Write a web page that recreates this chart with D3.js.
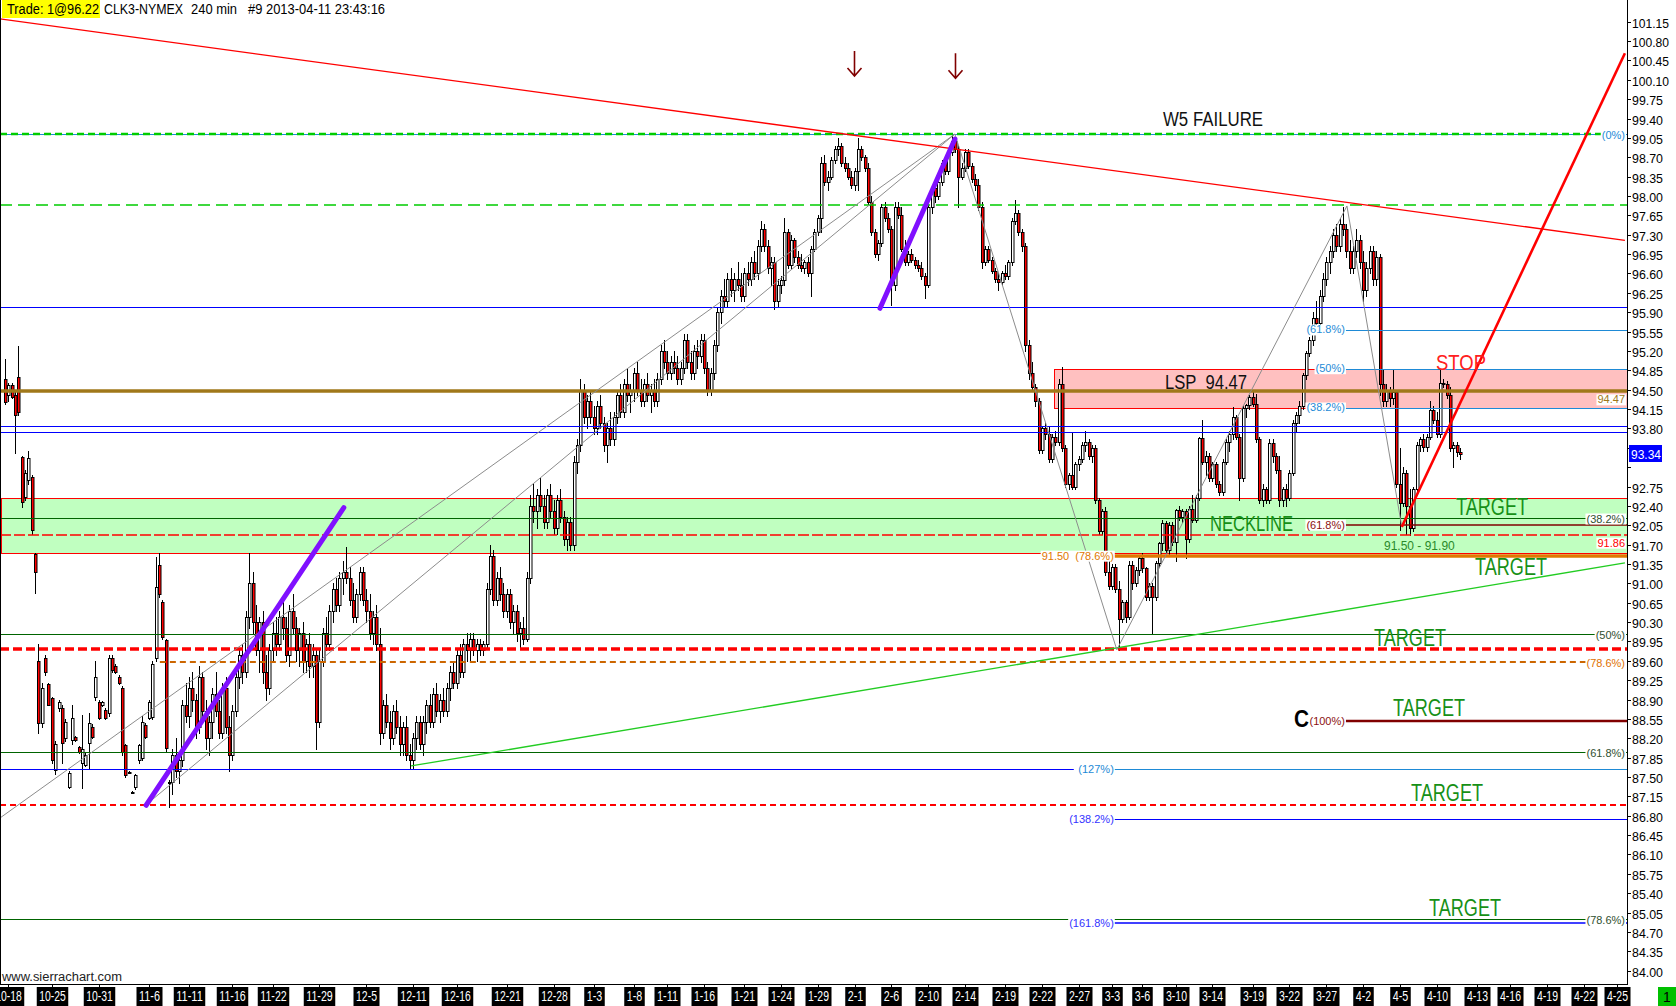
<!DOCTYPE html>
<html><head><meta charset="utf-8"><title>CLK3-NYMEX 240 min</title>
<script src="https://cdn.jsdelivr.net/npm/d3@7/dist/d3.min.js"></script>
<style>
html,body{margin:0;padding:0;background:#fff;overflow:hidden}
svg{display:block;font-family:"Liberation Sans",Arial,sans-serif}
</style></head><body>
<svg id="chart" width="1676" height="1006"></svg>
<script>
// ---------------- DATA (240-min bars) ----------------
const opens = [
94.69,94.40,94.58,94.40,94.73,93.28,92.56,92.86,92.92,91.53,89.60,88.48,89.65,89.18,88.93,87.63,88.75,88.75,88.20,87.32,
88.17,88.23,88.04,87.76,87.72,88.12,88.40,88.95,88.86,88.80,88.72,88.66,89.65,89.50,89.30,89.10,88.08,87.59,87.23,87.32,
87.80,87.85,88.44,88.57,88.58,89.65,91.33,90.66,89.98,87.41,87.41,87.90,87.60,
87.80,88.80,88.60,89.10,88.90,88.40,89.30,88.70,88.20,88.50,
89.00,88.70,88.30,89.10,88.40,87.90,88.70,89.30,89.70,89.40,
90.40,91.00,90.30,89.80,90.30,89.40,89.10,89.80,90.10,89.90,
90.40,90.20,89.70,90.50,90.20,89.80,90.10,89.60,89.90,89.50,
89.70,88.50,89.60,90.10,89.90,90.50,90.90,90.60,91.10,91.20,
91.10,90.70,90.40,90.80,91.20,90.70,90.50,90.10,90.40,89.90,
88.30,88.80,88.50,88.20,88.70,88.40,88.10,88.40,87.90,87.80,
88.20,88.50,88.10,88.50,88.80,88.50,89.00,88.70,88.90,88.70,
89.10,89.40,89.20,89.70,89.40,89.90,89.80,90.00,89.80,89.90,
89.80,89.90,90.90,91.50,90.70,91.10,90.80,90.50,90.80,90.30,
90.50,90.10,90.20,90.00,91.10,92.40,92.30,92.60,92.40,92.10,
92.60,92.30,92.00,92.50,92.20,91.80,92.10,91.70,93.20,93.50,
94.50,94.00,94.30,94.00,93.80,94.20,93.90,93.50,93.80,93.60,
94.00,94.40,94.10,94.60,94.40,94.50,94.80,94.50,94.30,94.60,
94.40,94.50,94.30,94.70,95.20,95.00,94.80,95.00,94.90,94.70,
94.90,95.40,95.00,94.80,95.20,95.10,95.40,94.90,94.50,94.80,
95.30,95.90,96.20,96.10,96.50,96.30,96.50,96.40,96.20,96.60,
96.50,96.80,96.60,97.10,97.40,97.10,96.70,96.80,96.10,96.40,
96.48,97.35,96.75,97.20,96.90,96.75,96.70,96.80,96.60,97.05,
97.35,97.60,98.60,98.25,98.35,98.65,98.85,98.90,98.60,98.50,
98.35,98.20,98.45,98.85,98.70,98.50,97.90,97.35,96.95,97.15,
97.80,97.60,97.40,96.40,97.80,97.65,97.05,96.80,96.95,96.85,
96.75,96.70,96.55,96.40,97.80,98.15,98.00,98.25,98.60,98.45,
98.80,99.00,98.85,98.35,98.50,98.80,98.55,98.30,98.20,97.80,
96.80,97.05,96.85,96.65,96.50,96.45,96.60,96.55,96.80,97.55,97.70,97.35,
97.10,95.30,94.80,94.55,94.30,93.41,93.80,93.70,93.25,93.65,
93.55,94.60,93.45,92.80,92.95,92.75,93.15,93.25,93.50,93.55,
93.30,93.45,92.50,91.95,92.30,91.20,90.95,91.30,90.90,90.35,
90.66,90.40,91.33,91.00,91.25,91.45,91.28,90.75,90.95,90.75,
91.37,91.73,92.09,91.60,92.05,91.75,92.32,92.20,92.30,91.80,
92.35,92.15,92.55,93.62,93.20,93.30,92.90,93.15,92.80,92.65,
93.20,93.55,93.70,94.00,93.65,92.90,94.17,94.22,94.37,94.25,
93.60,92.50,92.70,92.50,93.53,93.30,93.05,92.50,92.70,92.55,
93.00,93.90,94.05,94.20,94.76,95.16,95.40,95.80,95.70,96.20,
96.50,96.80,97.00,97.30,97.10,97.50,97.40,97.00,96.70,97.00,
97.20,96.80,96.30,96.70,97.00,96.50,96.90,94.60,94.30,94.50,
94.35,94.45,92.80,92.45,93.00,92.40,92.00,92.70,93.50,93.60,
93.46,93.65,94.13,93.95,93.70,94.62,94.60,94.40,93.44,93.50,93.37];
const highs = [
95.05,94.62,94.62,94.45,95.29,93.30,93.05,93.40,92.95,91.55,89.90,89.20,89.70,89.20,88.95,88.15,88.90,88.80,88.55,87.60,
88.80,88.25,88.06,88.62,87.95,88.65,88.45,89.60,88.90,88.87,88.75,89.70,89.70,89.55,89.35,89.15,88.10,87.61,87.25,87.55,
88.10,88.60,88.48,88.90,89.60,91.47,91.55,90.70,90.00,87.45,88.00,88.20,87.90,
88.90,89.20,89.30,89.40,89.00,89.50,89.40,88.90,88.60,89.10,
89.40,88.90,89.20,89.30,88.60,88.80,89.40,89.80,89.90,90.50,
91.55,91.20,90.60,90.40,90.50,89.70,89.90,90.30,90.40,90.50,
90.70,90.40,90.60,90.80,90.40,90.20,90.30,90.00,90.10,89.90,
89.80,89.80,90.20,90.40,90.60,91.00,91.10,91.20,91.40,91.65,
91.30,91.00,90.90,91.30,91.30,90.90,90.80,90.50,90.60,90.20,
88.90,89.00,88.70,88.80,88.90,88.60,88.50,88.60,88.10,88.30,
88.60,88.60,88.60,88.90,89.00,89.10,89.20,89.00,89.10,89.20,
89.50,89.60,89.80,89.90,90.00,90.10,90.10,90.10,90.00,90.00,
89.95,91.00,91.70,91.60,91.20,91.30,91.00,90.90,90.90,90.60,
90.60,90.30,90.40,91.20,92.60,92.80,92.70,92.90,92.60,92.70,
92.80,92.50,92.60,92.70,92.30,92.20,92.20,93.30,93.60,94.70,
94.60,94.40,94.50,94.20,94.30,94.40,94.00,93.90,94.10,94.10,
94.50,94.60,94.70,94.90,94.60,94.90,95.00,94.70,94.70,94.80,
94.60,94.70,94.80,95.30,95.40,95.20,95.10,95.20,95.10,95.00,
95.50,95.50,95.20,95.30,95.40,95.50,95.50,95.00,94.90,95.40,
96.00,96.30,96.50,96.60,96.70,96.60,96.80,96.60,96.70,96.80,
96.90,97.00,97.20,97.55,97.50,97.20,96.90,96.90,96.50,96.55,
97.60,97.40,97.30,97.25,97.00,96.95,96.85,96.90,97.10,97.40,
97.65,98.70,98.75,98.45,98.70,98.90,99.05,98.95,98.70,98.60,
98.45,98.50,99.05,98.90,98.75,98.60,98.00,97.40,97.20,97.85,
97.90,97.70,97.45,97.90,97.90,97.80,97.20,97.00,97.05,96.90,
96.85,96.80,96.60,97.85,98.20,98.25,98.30,98.65,98.70,98.85,
99.10,99.05,98.90,98.60,98.85,98.85,98.60,98.40,98.30,97.90,
97.10,97.10,96.90,96.70,96.60,96.65,96.75,96.85,97.60,97.93,97.75,97.40,
97.15,95.40,95.00,94.60,94.35,93.85,93.90,93.85,93.70,93.75,
94.70,94.91,93.50,93.00,93.71,93.20,93.30,93.55,93.75,93.60,
93.50,93.50,92.55,92.35,92.38,91.45,91.35,91.35,91.05,90.70,
90.70,91.40,91.40,91.30,91.50,91.55,91.30,91.00,91.00,91.40,
91.75,92.15,92.12,92.10,92.10,92.35,92.40,92.35,92.35,92.40,
92.60,92.60,93.65,93.95,93.40,93.35,93.20,93.20,92.85,93.25,
93.60,93.75,94.18,94.05,93.70,94.20,94.25,94.40,94.45,94.43,
93.65,92.80,92.75,93.60,93.60,93.35,93.30,92.75,92.80,93.05,
93.95,94.10,94.30,94.80,95.20,95.45,95.90,96.10,96.30,96.60,
96.90,97.10,97.40,97.50,97.60,97.80,97.50,97.20,97.10,97.40,
97.30,97.00,96.80,97.10,97.10,97.00,96.95,94.85,94.60,94.55,
94.85,94.50,93.45,93.10,93.05,92.70,92.75,93.55,93.65,93.70,
93.70,94.30,94.20,94.10,94.85,94.70,94.65,94.55,93.55,93.55,93.45];
const lows = [
94.25,94.30,94.35,93.35,94.05,92.38,92.50,92.80,91.90,90.83,88.30,88.40,89.35,88.80,87.75,87.55,88.70,87.76,88.15,87.30,
88.10,88.15,87.93,87.30,87.70,87.65,88.20,88.90,88.55,88.78,88.55,88.60,89.40,89.38,89.18,87.90,87.50,87.57,87.21,87.28,
87.75,87.80,88.20,88.55,88.55,89.60,90.75,90.00,87.95,86.96,87.20,87.50,87.40,
87.70,88.50,88.40,88.70,88.20,88.30,88.60,88.00,87.90,88.20,
88.60,88.20,88.20,88.30,87.60,87.80,88.60,89.10,89.20,89.30,
90.20,90.10,89.70,89.40,89.20,88.90,89.00,89.60,89.70,89.80,
90.00,89.60,89.50,90.10,89.60,89.50,89.40,89.40,89.30,89.30,
88.00,88.40,89.50,89.80,89.80,90.30,90.50,90.50,90.80,91.00,
90.60,90.30,90.30,90.70,90.60,90.30,90.00,89.90,89.80,88.10,
88.20,88.40,88.00,88.10,88.30,87.90,87.90,87.80,87.65,87.65,
88.00,88.00,87.90,88.30,88.40,88.40,88.60,88.50,88.60,88.60,
88.90,89.10,89.10,89.30,89.30,89.60,89.60,89.70,89.60,89.70,
89.70,89.85,90.80,90.60,90.60,90.70,90.40,90.40,90.20,90.10,
89.95,89.85,89.90,89.95,91.00,92.10,92.00,92.30,92.00,92.00,
92.20,91.90,91.90,92.10,91.70,91.60,91.60,91.60,93.00,93.40,
93.90,93.80,93.90,93.70,93.70,93.80,93.40,93.20,93.50,93.50,
93.90,94.00,94.00,94.30,94.10,94.30,94.40,94.20,94.20,94.30,
94.10,94.20,94.20,94.60,94.90,94.70,94.70,94.80,94.60,94.60,
94.80,94.90,94.70,94.70,94.90,95.00,94.80,94.40,94.40,94.70,
95.20,95.70,96.00,96.00,96.20,96.10,96.30,96.10,96.10,96.40,
96.40,96.50,96.50,97.00,97.00,96.60,96.40,95.95,96.00,96.25,
96.40,96.70,96.70,96.80,96.70,96.65,96.60,96.55,96.20,97.00,
97.30,97.35,98.20,98.10,98.30,98.60,98.75,98.55,98.45,98.30,
98.15,98.10,98.10,98.65,98.45,97.85,97.30,96.90,96.85,97.10,
97.55,97.35,96.03,96.30,97.60,97.00,96.75,96.75,96.80,96.70,
96.65,96.50,96.15,96.35,97.70,97.90,97.95,98.20,98.40,98.40,
98.75,98.80,97.80,98.30,98.45,98.50,98.25,98.10,97.75,96.70,
96.75,96.80,96.60,96.45,96.30,96.40,96.50,96.50,96.75,97.50,97.30,97.00,
95.20,94.70,94.50,94.20,93.35,93.35,93.60,93.20,93.20,93.50,
93.50,93.40,92.75,92.70,92.70,92.70,93.05,93.20,93.40,93.25,
93.20,92.45,91.90,91.90,91.15,90.90,90.90,90.85,89.80,90.30,
90.30,90.35,90.90,90.95,91.15,91.20,90.70,90.70,90.10,90.70,
91.30,91.60,91.55,91.50,91.70,91.40,92.15,92.10,91.45,91.75,
92.10,92.10,92.50,93.15,92.95,92.85,92.85,92.75,92.60,92.60,
93.15,93.40,93.60,93.60,92.50,92.85,94.00,94.15,94.20,93.55,
92.45,92.40,92.45,92.45,93.20,93.00,92.40,92.40,92.40,92.50,
92.95,93.75,93.90,94.15,94.70,95.10,95.30,95.60,95.65,96.10,
96.40,96.60,96.90,97.00,97.00,97.30,96.90,96.60,96.60,96.90,
96.70,96.10,96.20,96.60,96.40,96.40,94.40,94.20,94.20,94.20,
94.25,92.75,91.97,92.40,91.90,91.88,91.95,92.65,93.40,93.40,
93.40,93.60,93.90,93.65,93.65,94.55,94.35,93.40,93.10,93.30,93.25];
const closes = [
94.28,94.58,94.37,94.04,94.10,92.47,92.99,93.26,91.97,91.20,88.48,89.10,89.40,88.80,87.80,88.10,88.86,88.12,88.50,87.57,
88.56,88.17,87.95,88.00,87.90,88.48,88.23,89.30,88.57,88.85,88.57,89.65,89.43,89.40,89.20,87.95,87.53,87.59,87.23,87.53,
88.08,88.50,88.23,88.86,89.55,90.93,90.80,90.03,88.03,87.41,87.90,87.60,87.80,
88.80,88.60,89.10,88.90,88.40,89.30,88.70,88.20,88.50,89.00,
88.70,88.30,89.10,88.40,87.90,88.70,89.30,89.70,89.40,90.40,
91.00,90.30,89.80,90.30,89.40,89.10,89.80,90.10,89.90,90.40,
90.20,89.70,90.50,90.20,89.80,90.10,89.60,89.90,89.50,89.70,
88.50,89.60,90.10,89.90,90.50,90.90,90.60,91.10,91.20,91.10,
90.70,90.40,90.80,91.20,90.70,90.50,90.10,90.40,89.90,88.30,
88.80,88.50,88.20,88.70,88.40,88.10,88.40,87.90,87.80,88.20,
88.50,88.10,88.50,88.80,88.50,89.00,88.70,88.90,88.70,89.10,
89.40,89.20,89.70,89.40,89.90,89.80,90.00,89.80,89.90,89.80,
89.90,90.90,91.50,90.70,91.10,90.80,90.50,90.80,90.30,90.50,
90.10,90.20,90.00,91.10,92.40,92.30,92.60,92.40,92.10,92.60,
92.30,92.00,92.50,92.20,91.80,92.10,91.70,93.20,93.50,94.50,
94.00,94.30,94.00,93.80,94.20,93.90,93.50,93.80,93.60,94.00,
94.40,94.10,94.60,94.40,94.50,94.80,94.50,94.30,94.60,94.40,
94.50,94.30,94.70,95.20,95.00,94.80,95.00,94.90,94.70,94.90,
95.40,95.00,94.80,95.20,95.10,95.40,94.90,94.50,94.80,95.30,
95.90,96.20,96.10,96.50,96.30,96.50,96.40,96.20,96.60,96.50,
96.80,96.60,97.10,97.40,97.10,96.70,96.80,96.10,96.40,96.48,
97.35,96.75,97.20,96.90,96.75,96.70,96.80,96.60,97.05,97.35,
97.60,98.60,98.25,98.35,98.65,98.85,98.90,98.60,98.50,98.35,
98.20,98.45,98.85,98.70,98.50,97.90,97.35,96.95,97.15,97.80,
97.60,97.40,96.40,97.80,97.65,97.05,96.80,96.95,96.85,96.75,
96.70,96.55,96.40,97.80,98.15,98.00,98.25,98.60,98.45,98.80,
99.00,98.85,98.35,98.50,98.80,98.55,98.30,98.20,97.80,96.80,
97.05,96.85,96.65,96.50,96.45,96.60,96.55,96.80,97.55,97.70,97.35,97.10,
95.30,94.80,94.55,94.30,93.41,93.80,93.70,93.25,93.65,93.55,
94.60,93.45,92.80,92.95,92.75,93.15,93.25,93.50,93.55,93.30,
93.45,92.50,91.95,92.30,91.20,90.95,91.30,90.90,90.35,90.66,
90.40,91.33,91.00,91.25,91.45,91.28,90.75,90.95,90.75,91.37,
91.73,92.09,91.60,92.05,91.75,92.32,92.20,92.30,91.80,92.35,
92.15,92.55,93.62,93.20,93.30,92.90,93.15,92.80,92.65,93.20,
93.55,93.70,94.00,93.65,92.90,94.17,94.22,94.37,94.25,93.60,
92.50,92.70,92.50,93.53,93.30,93.05,92.50,92.70,92.55,93.00,
93.90,94.05,94.20,94.76,95.16,95.40,95.80,95.70,96.20,96.50,
96.80,97.00,97.30,97.10,97.50,97.40,97.00,96.70,97.00,97.20,
96.80,96.30,96.70,97.00,96.50,96.90,94.60,94.30,94.50,94.35,
94.45,92.80,92.45,93.00,92.40,92.00,92.70,93.50,93.60,93.46,
93.65,94.13,93.95,93.70,94.62,94.60,94.40,93.44,93.50,93.37,93.34];

// x-axis dates (label text and the bar index where that date starts)
const dateLabels = ["10-18","10-25","10-31","11-6","11-11","11-16","11-22","11-29","12-5","12-11","12-16","12-21","12-28",
"1-3","1-8","1-11","1-16","1-21","1-24","1-29","2-1","2-6","2-10","2-14","2-19","2-22","2-27","3-3","3-6","3-10","3-14",
"3-19","3-22","3-27","4-2","4-5","4-10","4-13","4-16","4-19","4-22","4-25"];
const dateIdx = [1,14,28,43,55,68,80,94,108,122,135,150,164,176,188,198,209,221,232,243,254,265,276,287,299,310,321,331,
340,350,361,373,384,395,406,417,428,440,450,461,472,482];
// right price axis tick labels
const priceTicks = ["101.15","100.80","100.45","100.10","99.75","99.40","99.05","98.70","98.35","98.00","97.65","97.30",
"96.95","96.60","96.25","95.90","95.55","95.20","94.85","94.50","94.15","93.80","93.45","93.10","92.75","92.40","92.05",
"91.70","91.35","91.00","90.65","90.30","89.95","89.60","89.25","88.90","88.55","88.20","87.85","87.50","87.15","86.80",
"86.45","86.10","85.75","85.40","85.05","84.70","84.35","84.00"];
const lastPrice = 93.34;
// zones [top, bottom] and anchor bars
const neckZone = [92.54, 91.55];
const lspZone = [94.87, 94.17];
const lspStartIdx = 313.6;
const lspLevel = 94.47;
// horizontal levels
const greenDashLevels = [99.12, 97.83];
const blueLevels = [96.00, 93.85, 93.73];
const fibTopLevels = [95.57, 94.87, 94.16];          // (61.8%) (50%) (38.2%) from the 3-27 high
const fibTopLabels = ["(61.8%)", "(50%)", "(38.2%)"];
const fibTopIdx = 400.6;
const darkRedLevels = [92.06, 88.52];               // (61.8%) (100%)
const darkRedLabels = ["(61.8%)", "(100%)"];
const darkGreenLevels = [92.19, 90.09, 87.96, 84.93];
const darkGreenLabels = ["(38.2%)", "(50%)", "(61.8%)", "(78.6%)"];
const redDashLevels = [91.88, 89.82, 86.99];
const orangeLevel = 91.50;
const orangeDashLevel = 89.58;
const orangeDashIdx = 46.3;
const extLevels = [87.65, 86.74, 84.87];             // (127%) (138.2%) (161.8%)
const extLabels = ["(127%)", "(138.2%)", "(161.8%)"];
const extIdx = 331.5;
const wLevel = 99.12;
// drawn trend lines: [idxA, priceA, idxB, priceB]
const downTrend = [-1.5, 101.20, 484.3, 97.20];
const upTrend = [417.6, 92.02, 484.3, 100.58];
const supportLine = [121.4, 87.70, 484.3, 91.37];
const purpleLines = [[42.2, 86.99, 101.3, 92.37], [261.6, 95.97, 284.0, 99.03]];
const waveLines = [[-1.5, 86.76, 284.0, 99.12], [42.2, 87.00, 284.0, 99.12], [284.0, 99.12, 332.4, 89.80],
                   [332.4, 89.80, 401.2, 97.82], [401.2, 97.82, 417.6, 92.02]];
const arrowIdx = [253.8, 284.0];
const arrowPrice = [100.62, 100.58];

// ---------------- CHART ----------------
const W = 1676, H = 1006, PR = 1627, PB = 984;
const svg = d3.select('#chart');
const N = closes.length;
const x = d3.scaleLinear().domain([0, N - 1]).range([5, 1460]);
const y = d3.scaleLinear().domain([84.00, 101.15]).range([970.7, 21.7]);
const cy = p => Math.round(y(p)) + 0.5;

svg.append('rect').attr('width', W).attr('height', H).attr('fill', '#fff');
svg.append('defs').append('clipPath').attr('id', 'plot')
  .append('rect').attr('x', 0).attr('y', 0).attr('width', PR).attr('height', PB);
const plot = svg.append('g').attr('clip-path', 'url(#plot)');
const gZone = plot.append('g'), gCandle = plot.append('g'), gLine = plot.append('g'), gLab = plot.append('g');

// zones
gZone.append('rect').attr('x', 1.5).attr('y', cy(neckZone[0])).attr('width', PR)
  .attr('height', cy(neckZone[1]) - cy(neckZone[0])).attr('fill', '#c0ffc0').attr('stroke', '#ff0000');
gZone.append('rect').attr('x', Math.round(x(lspStartIdx)) + 0.5).attr('y', cy(lspZone[0])).attr('width', PR)
  .attr('height', cy(lspZone[1]) - cy(lspZone[0])).attr('fill', '#ffc0c0').attr('stroke', '#ff0000');

// candles
const idx = d3.range(N);
const cx = i => Math.round(x(i));
gCandle.selectAll('line').data(idx).join('line')
  .attr('x1', i => cx(i) + 0.5).attr('x2', i => cx(i) + 0.5)
  .attr('y1', i => Math.round(y(highs[i]))).attr('y2', i => Math.round(y(lows[i])) + 1)
  .attr('stroke', '#000').attr('stroke-width', 1);
gCandle.selectAll('rect').data(idx).join('rect')
  .attr('x', i => cx(i) - 0.5).attr('width', 2.5)
  .attr('y', i => Math.round(y(Math.max(opens[i], closes[i]))) + 0.5)
  .attr('height', i => Math.max(1, Math.round(y(Math.min(opens[i], closes[i]))) - Math.round(y(Math.max(opens[i], closes[i])))))
  .attr('fill', i => closes[i] >= opens[i] ? '#ffffff' : '#ff0000')
  .attr('stroke', '#000').attr('stroke-width', 1);

// helpers
function hline(p, x0, x1, color, w, dash) {
  const yy = (w % 2 === 1) ? cy(p) : Math.round(y(p));
  const l = gLine.append('line').attr('x1', x0).attr('x2', x1).attr('y1', yy).attr('y2', yy)
    .attr('stroke', color).attr('stroke-width', w);
  if (dash) l.attr('stroke-dasharray', dash);
  return l;
}
function seg(s, color, w, cap) {
  gLine.append('line').attr('x1', x(s[0])).attr('y1', y(s[1])).attr('x2', x(s[2])).attr('y2', y(s[3]))
    .attr('stroke', color).attr('stroke-width', w).attr('stroke-linecap', cap || 'butt');
}
function tag(text, xp, yc, color, anchor, bg, size) {
  const t = gLab.append('text').text(text).attr('x', xp).attr('y', yc + 4)
    .attr('text-anchor', anchor).attr('font-size', size || 11).attr('fill', color).style('white-space', 'pre');
  if (bg !== false) {
    const b = t.node().getBBox();
    gLab.insert('rect', () => t.node()).attr('x', b.x - 1).attr('y', b.y + 1).attr('width', b.width + 2)
      .attr('height', b.height - 1).attr('fill', '#fff');
  }
  return t;
}

// horizontal lines
const steel = '#1e8ad6', dgreen = '#006400', dred = '#800000';
hline(wLevel, 0, PR, steel, 1);
hline(greenDashLevels[0], 0, PR, '#00cc00', 2.5, '7,4');
hline(greenDashLevels[1], 0, PR, '#00cc00', 1.5, '12,6');
blueLevels.forEach(p => hline(p, 0, PR, '#0000ff', 1));
fibTopLevels.forEach(p => hline(p, x(fibTopIdx), PR, steel, 1));
hline(lspLevel, 0, PR, '#a0781a', 3.5);
darkGreenLevels.forEach(p => hline(p, 0, PR, dgreen, 1));
hline(darkRedLevels[0], x(fibTopIdx), PR, dred, 1.5);
hline(darkRedLevels[1], x(fibTopIdx), PR, dred, 2.5);
hline(redDashLevels[0], 0, PR, '#ff0000', 1.5, '11,3');
hline(redDashLevels[1], 0, PR, '#ff0000', 3.5, '9,4');
hline(redDashLevels[2], 0, PR, '#ff0000', 2, '6,4');
hline(orangeLevel, x(extIdx), PR, '#e07800', 3.5);
hline(orangeDashLevel, x(orangeDashIdx), PR, '#cc6600', 2, '6,4');
hline(extLevels[0], 0, x(extIdx) - 40, '#0000ff', 1);
hline(extLevels[0], x(extIdx), PR, steel, 1);
hline(extLevels[1], x(extIdx), PR, '#0000ff', 1);
hline(extLevels[2], x(extIdx), PR, '#0000ff', 1.5);

// diagonal lines
seg(supportLine, '#22cc22', 1.3);
waveLines.forEach(s => seg(s, '#8c8c8c', 1));
seg(downTrend, '#ff0000', 1.3);
seg(upTrend, '#ff0000', 2.6);
purpleLines.forEach(s => seg(s, '#8010ff', 5, 'round'));

// arrows
arrowIdx.forEach((a, k) => {
  const ax = Math.round(x(a)) + 0.5, ay = y(arrowPrice[k]);
  gLine.append('path').attr('d', `M${ax},${ay}V${ay + 25}M${ax - 7},${ay + 17}L${ax},${ay + 25}L${ax + 7},${ay + 17}`)
    .attr('fill', 'none').attr('stroke', '#800000').attr('stroke-width', 1.6);
});

// level labels
const lx = x(fibTopIdx), ex = x(extIdx);
fibTopLevels.forEach((p, k) => tag(fibTopLabels[k], lx, y(p) - 1, steel, 'end'));
darkRedLevels.forEach((p, k) => tag(darkRedLabels[k], lx, y(p), '#8b1010', 'end'));
darkGreenLevels.forEach((p, k) => tag(darkGreenLabels[k], PR - 2, y(p) + 1, '#2f4f2f', 'end'));
tag('(0%)', PR - 2, y(wLevel) + 1, steel, 'end');
tag('94.47', PR - 2, y(lspLevel) + 8, '#a0781a', 'end');
tag('91.86', PR - 2, y(redDashLevels[0]) + 8, '#ff0000', 'end');
tag('(78.6%)', PR - 2, y(orangeDashLevel) + 1, '#e07000', 'end');
tag('91.50  (78.6%)', ex, y(orangeLevel), '#e07800', 'end');
tag(extLabels[0], ex, y(extLevels[0]), steel, 'end');
tag(extLabels[1], ex, y(extLevels[1]), '#3333ff', 'end');
tag(extLabels[2], ex, y(extLevels[2]), '#3333ff', 'end');
tag('91.50 - 91.90', 1384, 546, '#2a8a2a', 'start', false, 12);

// annotation texts
function big(text, xp, yb, color, size, len, weight) {
  gLab.append('text').text(text).attr('x', xp).attr('y', yb).attr('font-size', size).attr('fill', color)
    .attr('textLength', len).attr('lengthAdjust', 'spacingAndGlyphs').attr('font-weight', weight || 'normal')
    .style('white-space', 'pre');
}
const tgt = '#169016';
big('W5 FAILURE', 1163, 126, '#111', 20, 100);
big('LSP  94.47', 1165, 389, '#111', 20, 82);
big('STOP', 1436, 370, '#ff2020', 22, 50);
// NECKLINE: narrow natural width, stretched vertically to match the tall condensed lettering
gLab.append('text').text('NECKLINE').attr('transform', 'translate(1210,531) scale(1,1.3)')
  .attr('x', 0).attr('y', 0).attr('font-size', 16.5).attr('fill', tgt)
  .attr('textLength', 83).attr('lengthAdjust', 'spacingAndGlyphs');
big('TARGET', 1456, 515, tgt, 23, 72);
big('TARGET', 1475, 575, tgt, 23, 72);
big('TARGET', 1374, 646, tgt, 23, 72);
big('TARGET', 1393, 716, tgt, 23, 72);
big('TARGET', 1411, 801, tgt, 23, 72);
big('TARGET', 1429, 916, tgt, 23, 72);
big('C', 1294, 727, '#000', 24, 15, 'bold');

// ---------------- AXES ----------------
const gAx = svg.append('g');
gAx.append('line').attr('x1', 0.5).attr('x2', 0.5).attr('y1', 0).attr('y2', PB).attr('stroke', '#000');
gAx.append('line').attr('x1', 0).attr('x2', PR + 1).attr('y1', PB + 0.5).attr('y2', PB + 0.5).attr('stroke', '#000');
gAx.append('line').attr('x1', PR + 0.5).attr('x2', PR + 0.5).attr('y1', 0).attr('y2', PB + 1).attr('stroke', '#000');
dateLabels.forEach((d, k) => {
  const px = Math.round(x(dateIdx[k])) + 0.5;
  const tl = 5.5 * d.length - 1;
  gAx.append('line').attr('x1', px).attr('x2', px).attr('y1', PB).attr('y2', PB + 4).attr('stroke', '#000');
  gAx.append('rect').attr('x', px - tl / 2 - 2.5).attr('y', 987).attr('width', tl + 5).attr('height', 19).attr('fill', '#000');
  gAx.append('text').text(d).attr('x', px - tl / 2).attr('y', 1001).attr('font-size', 14).attr('fill', '#fff')
    .attr('textLength', tl).attr('lengthAdjust', 'spacingAndGlyphs');
});
const lpY = y(lastPrice);
priceTicks.forEach(t => {
  const py = cy(+t);
  gAx.append('line').attr('x1', PR).attr('x2', PR + 4).attr('y1', py).attr('y2', py).attr('stroke', '#000');
  if (Math.abs(py - lpY) < 14) return;   // label hidden under the last-price marker, as in the original
  gAx.append('text').text(t).attr('x', PR + 5).attr('y', py + 5).attr('font-size', 13).attr('fill', '#000')
    .attr('textLength', t.length === 6 ? 37 : 31).attr('lengthAdjust', 'spacingAndGlyphs');
});
gAx.append('rect').attr('x', PR + 2).attr('y', Math.round(lpY) - 9).attr('width', 33).attr('height', 17).attr('fill', '#0000ff');
gAx.append('text').text(lastPrice.toFixed(2)).attr('x', PR + 4).attr('y', Math.round(lpY) + 5).attr('font-size', 13)
  .attr('fill', '#fff').attr('textLength', 30).attr('lengthAdjust', 'spacingAndGlyphs');
gAx.append('rect').attr('x', 1658).attr('y', 987).attr('width', 18).attr('height', 19).attr('fill', '#00c000');
gAx.append('text').text('1').attr('x', 1667).attr('y', 1002).attr('text-anchor', 'middle').attr('font-size', 14).attr('fill', '#000');

// header
gAx.append('rect').attr('x', 2).attr('y', 0).attr('width', 98).attr('height', 18).attr('fill', '#ffff00');
const hdr = [['Trade: 1@96.22', 7, 92], ['CLK3-NYMEX', 104, 79], ['240 min', 191, 46], ['#9 2013-04-11 23:43:16', 248, 137]];
hdr.forEach(h => gAx.append('text').text(h[0]).attr('x', h[1]).attr('y', 14).attr('font-size', 14).attr('fill', '#000')
  .attr('textLength', h[2]).attr('lengthAdjust', 'spacingAndGlyphs'));
gAx.append('text').text('www.sierrachart.com').attr('x', 2).attr('y', 981).attr('font-size', 12).attr('fill', '#222')
  .attr('textLength', 120).attr('lengthAdjust', 'spacingAndGlyphs');
</script>
</body></html>
